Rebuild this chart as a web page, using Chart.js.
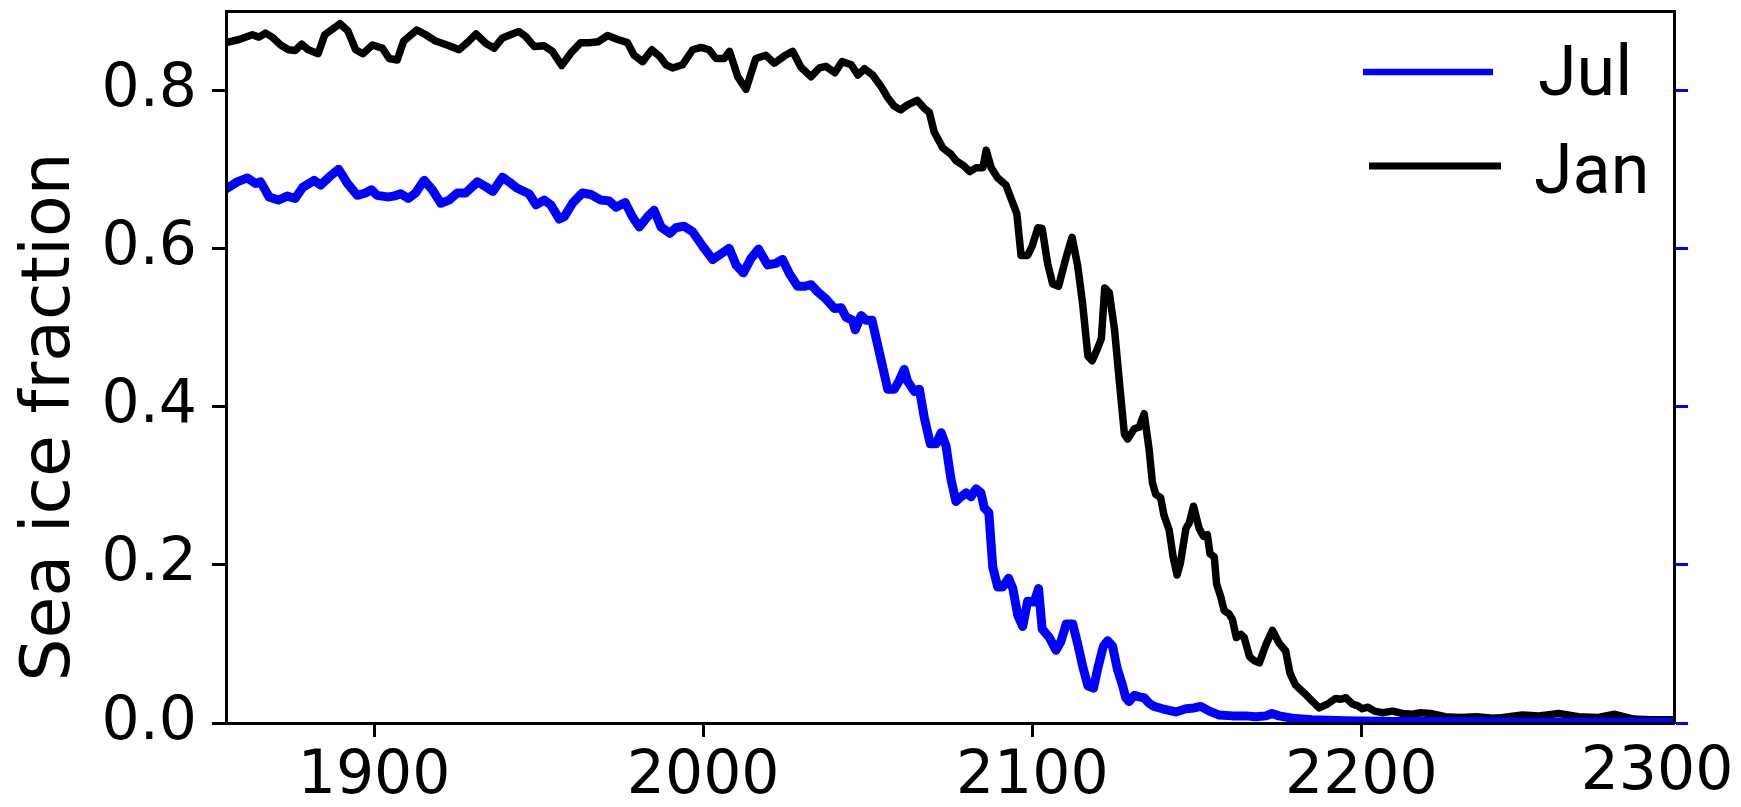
<!DOCTYPE html>
<html>
<head>
<meta charset="utf-8">
<title>Sea ice fraction</title>
<script src="https://cdn.jsdelivr.net/npm/chart.js@4.4.1/dist/chart.umd.min.js"></script>
<style>
  html, body { margin: 0; padding: 0; background: #ffffff; }
  #wrap { width: 1741px; height: 807px; }
</style>
</head>
<body>
<div id="wrap"><canvas id="chart" width="1741" height="807"></canvas></div>
<script>
// January sea ice fraction (running mean), year / value pairs
const janYears = [
  1855, 1859, 1863, 1865, 1867, 1869, 1871.6, 1874, 1876, 1878, 1880, 1883, 1885, 1887, 1889.6, 1892, 1894.4, 1896.6, 1899.5,
  1902.5, 1904.6, 1907, 1909, 1913, 1915.7, 1918.7, 1922.8, 1925.8, 1928.3, 1931, 1934, 1936.5, 1939, 1942, 1944, 1946, 1948.7,
  1951.7, 1954.2, 1957, 1959.8, 1962.8, 1965.4, 1968, 1971, 1974, 1977, 1979, 1981.6, 1984.4, 1986.7, 1988.7, 1990.7, 1993.7,
  1996.8, 1999.3, 2001.8, 2003.9, 2006.4, 2008, 2010.5, 2013, 2016, 2019, 2021.6, 2024.6, 2027.2, 2029.7, 2032.8, 2035.3,
  2037.3, 2040, 2042.2, 2045, 2047, 2049, 2051.5, 2054, 2056, 2058, 2060, 2062, 2065, 2067.2, 2068.7, 2070.2, 2072.8, 2075.3,
  2076.8, 2079, 2081, 2083, 2085, 2086, 2087.5, 2089.5, 2092, 2094, 2095.3, 2096.6, 2098.6, 2100, 2101.7, 2103, 2104.7, 2106.2,
  2108, 2110.3, 2112.1, 2113.8, 2115.3, 2116.9, 2118.2, 2120, 2121, 2122, 2123.4, 2125, 2126.5, 2128, 2129, 2131, 2132.5, 2134,
  2135.5, 2136.5, 2137.5, 2139, 2140, 2141.6, 2142.8, 2144, 2145, 2146.7, 2147.7, 2149, 2150.7, 2152, 2153.2, 2154, 2155.3,
  2156, 2157.3, 2158.3, 2159.8, 2160.8, 2162, 2163.4, 2164.4, 2166, 2167.4, 2169, 2171, 2173, 2175, 2177, 2178.3, 2180, 2182.6,
  2185.2, 2187.2, 2189.7, 2192.2, 2193.8, 2195.3, 2197.3, 2198.8, 2200.3, 2202, 2204, 2206.4, 2209.5, 2212.5, 2215.6, 2218,
  2221, 2225.5, 2230, 2235, 2240, 2243, 2249, 2254, 2260, 2266, 2272, 2277, 2282.7, 2288, 2295
];
const janValues = [
  0.860, 0.864, 0.870, 0.867, 0.872, 0.867, 0.857, 0.851, 0.850, 0.858, 0.851, 0.846, 0.870, 0.876, 0.884, 0.875, 0.851, 0.846, 0.857,
  0.853, 0.840, 0.838, 0.862, 0.876, 0.870, 0.862, 0.856, 0.851, 0.860, 0.871, 0.859, 0.853, 0.866, 0.871, 0.874, 0.868, 0.855,
  0.856, 0.849, 0.831, 0.847, 0.860, 0.860, 0.861, 0.869, 0.864, 0.860, 0.844, 0.836, 0.851, 0.843, 0.832, 0.828, 0.832,
  0.851, 0.854, 0.851, 0.840, 0.840, 0.849, 0.817, 0.801, 0.840, 0.844, 0.834, 0.843, 0.849, 0.829, 0.817, 0.828,
  0.830, 0.822, 0.836, 0.832, 0.819, 0.827, 0.819, 0.805, 0.791, 0.780, 0.775, 0.781, 0.787, 0.777, 0.772, 0.747, 0.727, 0.719,
  0.711, 0.705, 0.697, 0.702, 0.702, 0.724, 0.702, 0.689, 0.680, 0.658, 0.644, 0.591, 0.591, 0.603, 0.626, 0.625, 0.580, 0.555,
  0.552, 0.589, 0.614, 0.578, 0.530, 0.464, 0.458, 0.475, 0.486, 0.550, 0.544, 0.497, 0.430, 0.365, 0.359, 0.372, 0.374, 0.391,
  0.346, 0.304, 0.289, 0.285, 0.263, 0.244, 0.210, 0.187, 0.202, 0.246, 0.253, 0.274, 0.246, 0.236, 0.238, 0.214, 0.210,
  0.176, 0.159, 0.142, 0.138, 0.131, 0.108, 0.112, 0.108, 0.084, 0.079, 0.076, 0.099, 0.117, 0.101, 0.091, 0.063, 0.048, 0.038,
  0.027, 0.019, 0.024, 0.031, 0.030, 0.032, 0.024, 0.022, 0.018, 0.020, 0.015, 0.013, 0.015, 0.012, 0.011, 0.013,
  0.012, 0.008, 0.007, 0.008, 0.006, 0.007, 0.010, 0.009, 0.012, 0.008, 0.007, 0.011, 0.005, 0.004, 0.004
];

// July sea ice fraction (running mean), year / value pairs
const julYears = [
  1855, 1858.4, 1861.5, 1864, 1865.5, 1868.1, 1870.9, 1873.6, 1876, 1878.3, 1881.8, 1883.8, 1886.3, 1889.2, 1891.9, 1894.9,
  1897.4, 1899.2, 1900.9, 1904, 1906, 1908.1, 1910.4, 1912.6, 1915.2, 1917.7, 1920.3, 1922.8, 1925.3, 1927.8, 1931.4, 1933.9,
  1936.1, 1939, 1941, 1943.5, 1947.1, 1949.2, 1951.7, 1953.7, 1956.3, 1957.8, 1960.3, 1963.3, 1965.9, 1968.9, 1971.4, 1973.5,
  1976.3, 1978.5, 1980.6, 1983.1, 1985.1, 1987.2, 1989.9, 1991.7, 1994.2, 1996.8, 1999.8, 2002.9, 2005.4, 2007.9, 2010, 2012.2,
  2014.5, 2016.8, 2019.6, 2022.1, 2024.1, 2026.2, 2028.7, 2030.7, 2032.8, 2034.8, 2037.3, 2039.9, 2041.9, 2043.4, 2045.4,
  2046.2, 2048, 2049.5, 2051.3, 2053.5, 2056.1, 2058.1, 2059.6, 2061.1, 2062.1, 2064.2, 2065.7, 2067.2, 2069, 2070.8, 2072.3,
  2073.8, 2075.3, 2076.8, 2078.4, 2079.9, 2081.4, 2082.9, 2084.4, 2085.4, 2086.8, 2088, 2089.5, 2091, 2092.8, 2094.1, 2095.6,
  2097.1, 2098.6, 2100.6, 2101.9, 2103, 2105.2, 2107.2, 2108.7, 2110.3, 2112.3, 2113.8, 2115.3, 2116.9, 2118.6, 2119.9,
  2121.6, 2122.9, 2124.4, 2125.8, 2127.4, 2128.4, 2129.4, 2131, 2132.5, 2134, 2135.5, 2137, 2139.6, 2143.6, 2146.7, 2149.2,
  2151.2, 2153.8, 2156.8, 2160.8, 2164.9, 2167.9, 2171, 2172.8, 2175, 2179, 2185, 2195, 2210, 2230, 2250, 2270, 2295
];
const julValues = [
  0.675, 0.684, 0.689, 0.682, 0.684, 0.665, 0.661, 0.666, 0.663, 0.677, 0.686, 0.680, 0.690, 0.700, 0.682, 0.667,
  0.670, 0.674, 0.667, 0.665, 0.666, 0.669, 0.663, 0.670, 0.686, 0.674, 0.657, 0.661, 0.670, 0.670, 0.684, 0.678,
  0.672, 0.690, 0.684, 0.676, 0.669, 0.655, 0.661, 0.655, 0.637, 0.640, 0.657, 0.670, 0.668, 0.661, 0.660, 0.652,
  0.658, 0.640, 0.627, 0.640, 0.648, 0.627, 0.619, 0.626, 0.628, 0.621, 0.603, 0.586, 0.593, 0.600, 0.579, 0.569,
  0.587, 0.599, 0.579, 0.581, 0.586, 0.568, 0.552, 0.552, 0.554, 0.545, 0.536, 0.524, 0.525, 0.513, 0.509,
  0.497, 0.515, 0.509, 0.509, 0.469, 0.422, 0.422, 0.433, 0.447, 0.432, 0.419, 0.422, 0.386, 0.353, 0.353, 0.367,
  0.350, 0.308, 0.280, 0.286, 0.291, 0.286, 0.296, 0.291, 0.272, 0.266, 0.197, 0.172, 0.172, 0.183, 0.170, 0.136,
  0.122, 0.154, 0.153, 0.170, 0.119, 0.108, 0.092, 0.103, 0.125, 0.125, 0.100, 0.072, 0.047, 0.044, 0.069,
  0.097, 0.104, 0.097, 0.069, 0.048, 0.032, 0.027, 0.035, 0.033, 0.032, 0.025, 0.021, 0.018, 0.014, 0.018, 0.019,
  0.021, 0.015, 0.010, 0.009, 0.009, 0.008, 0.009, 0.012, 0.009, 0.006, 0.004, 0.003, 0.002, 0.002, 0.001, 0.001, 0.001
];

const seriesLabels = ['Jul', 'Jan'];
const yTickValues = [0, 0.2, 0.4, 0.6, 0.8];
const xTickValues = [1900, 2000, 2100, 2200];
const xEndLabel = '2300';
const yTitle = 'Sea ice fraction';
const xRange = [1855, 2295];
const yRange = [0, 0.9];

const toPoints = (xs, ys) => xs.map((x, i) => ({ x: x, y: ys[i] }));
const fixedTicks = values => scale => { scale.ticks = values.map(v => ({ value: v })); };
const pinSize = (prop, px) => scale => {
  scale[prop] = px;
  scale.paddingLeft = scale.paddingRight = scale.paddingTop = scale.paddingBottom = 0;
};

const tickFont = { family: 'DejaVu Sans', size: 60 };
const spine = { color: '#000000', width: 3, z: 1 };

// Frame text that sits outside the regular axis layout: y title, end label, legend
const frameText = {
  id: 'frameText',
  afterDraw(chart) {
    const { ctx, chartArea: ca } = chart;
    ctx.save();
    ctx.fillStyle = '#000000';

    // rotated y-axis title
    ctx.save();
    ctx.font = '68px "DejaVu Sans"';
    ctx.textAlign = 'center';
    ctx.textBaseline = 'alphabetic';
    ctx.translate(69, ca.top + 406);
    ctx.rotate(-Math.PI / 2);
    ctx.fillText(yTitle, 0, 0);
    ctx.restore();

    // label at the right end of the time axis
    ctx.font = '60px "DejaVu Sans"';
    ctx.textAlign = 'center';
    ctx.textBaseline = 'middle';
    ctx.fillText(xEndLabel, ca.right - 17, ca.bottom + 50);

    // legend
    const rows = [
      { ds: chart.data.datasets[0], x0: ca.right - 311, x1: ca.right - 181, y: ca.top + 61, tx: ca.right - 136, ty: ca.top + 84, w: 6.5 },
      { ds: chart.data.datasets[1], x0: ca.right - 305, x1: ca.right - 173, y: ca.top + 155, tx: ca.right - 140, ty: ca.top + 182, w: 7 }
    ];
    ctx.font = '70px Roboto';
    ctx.textAlign = 'left';
    ctx.textBaseline = 'alphabetic';
    rows.forEach(r => {
      ctx.strokeStyle = r.ds.borderColor;
      ctx.lineWidth = r.w;
      ctx.lineCap = 'butt';
      ctx.beginPath();
      ctx.moveTo(r.x0, r.y);
      ctx.lineTo(r.x1, r.y);
      ctx.stroke();
      ctx.fillText(r.ds.label, r.tx, r.ty);
    });
    ctx.restore();
  }
};

new Chart(document.getElementById('chart').getContext('2d'), {
  type: 'line',
  data: {
    datasets: [
      {
        label: seriesLabels[0],
        data: toPoints(julYears, julValues),
        borderColor: '#0000ff',
        borderWidth: 9,
        pointRadius: 0,
        tension: 0,
        borderJoinStyle: 'round',
        borderCapStyle: 'round',
        clip: 0,
        yAxisID: 'y'
      },
      {
        label: seriesLabels[1],
        data: toPoints(janYears, janValues),
        borderColor: '#000000',
        borderWidth: 7.5,
        pointRadius: 0,
        tension: 0,
        borderJoinStyle: 'round',
        borderCapStyle: 'round',
        clip: 0,
        yAxisID: 'y'
      }
    ]
  },
  options: {
    responsive: false,
    maintainAspectRatio: false,
    animation: false,
    devicePixelRatio: 1,
    layout: { padding: 0, autoPadding: false },
    plugins: { legend: { display: false }, tooltip: { enabled: false } },
    scales: {
      x: {
        type: 'linear', position: 'bottom', min: xRange[0], max: xRange[1],
        afterBuildTicks: fixedTicks(xTickValues),
        afterFit: pinSize('height', 84),
        grid: { drawOnChartArea: false, drawTicks: true, tickLength: 14, tickWidth: 3, tickColor: '#000000' },
        border: spine,
        ticks: { font: tickFont, color: '#000000', padding: 4, maxRotation: 0, autoSkip: false, callback: v => String(v) }
      },
      xTop: {
        type: 'linear', position: 'top', min: xRange[0], max: xRange[1],
        afterFit: pinSize('height', 11),
        grid: { display: false, drawTicks: false },
        border: spine,
        ticks: { display: false }
      },
      y: {
        type: 'linear', position: 'left', min: yRange[0], max: yRange[1],
        afterBuildTicks: fixedTicks(yTickValues),
        afterFit: pinSize('width', 226),
        grid: { drawOnChartArea: false, drawTicks: true, tickLength: 14, tickWidth: 3, tickColor: '#000000' },
        border: spine,
        ticks: { font: tickFont, color: '#000000', padding: 15, callback: v => v.toFixed(1) }
      },
      yRight: {
        type: 'linear', position: 'right', min: yRange[0], max: yRange[1],
        afterBuildTicks: fixedTicks(yTickValues),
        afterFit: pinSize('width', 67),
        grid: { drawOnChartArea: false, drawTicks: true, tickLength: 14, tickWidth: 3, tickColor: '#0000ff' },
        border: spine,
        ticks: { display: false }
      }
    }
  },
  plugins: [frameText]
});
</script>
</body>
</html>
